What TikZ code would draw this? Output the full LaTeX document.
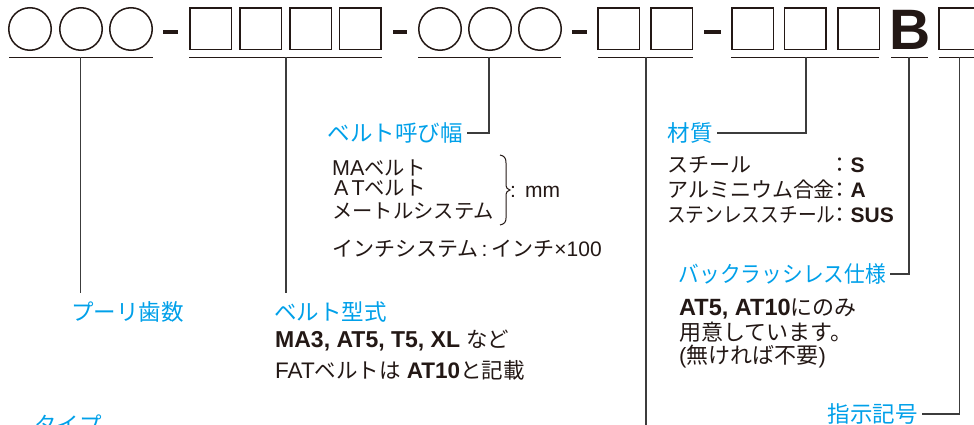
\documentclass[tikz,border=0pt]{standalone}
\usepackage{fontspec}
\setmainfont{Liberation Sans}
\newfontfamily\jpfont{Noto Sans CJK JP}
\newcommand{\jpn}[1]{{\jpfont #1}}
\definecolor{lblblue}{RGB}{0,160,233}
\definecolor{inkc}{RGB}{35,24,21}
\definecolor{wirec}{RGB}{60,60,60}
\tikzset{
  blbl/.style={text=lblblue, font=\jpfont\fontsize{22.5}{26}\selectfont, inner sep=0pt},
  tagr/.style={blbl, anchor=east, inner xsep=4pt, inner ysep=0pt},
  body/.style={text=inkc, font=\fontsize{21}{25}\selectfont, inner sep=0pt, anchor=base west, text height=15pt, text depth=3pt},
  bodys/.style={body, font=\fontsize{20.3}{22}\selectfont, text height=14pt, text depth=2pt},
  bodyb/.style={body, font=\fontsize{22}{25}\selectfont},
  slotc/.style={draw=inkc, line width=1.5pt, circle, minimum size=42.5pt, inner sep=0pt},
  slots/.style={draw=inkc, line width=1.5pt, rectangle, minimum size=41.5pt, inner sep=0pt},
  uline/.style={draw=inkc, line width=1.8pt},
  wire/.style={draw=wirec, line width=1.1pt},
  dashbar/.style={draw=inkc, line width=4.5pt},
}
\begin{document}
\begin{tikzpicture}[x=1pt,y=-1pt]
\useasboundingbox (0,0) rectangle (974,425);
\clip (0,0) rectangle (974,425);
% --- code slots
\node[slotc] (c1) at (30,29) {};
\node[slotc] (c2) at (81,29) {};
\node[slotc] (c3) at (131,29) {};
\draw[dashbar] (163,32) -- (178,32);
\node[slots] (s1) at (210.5,29) {};
\node[slots] (s2) at (260.5,29) {};
\node[slots] (s3) at (310.5,29) {};
\node[slots] (s4) at (360,29) {};
\draw[dashbar] (393,32) -- (407,32);
\node[slotc] (c4) at (440,29) {};
\node[slotc] (c5) at (490,29) {};
\node[slotc] (c6) at (540,29) {};
\draw[dashbar] (572,32) -- (587,32);
\node[slots] (s5) at (618.5,29) {};
\node[slots] (s6) at (671.5,29) {};
\draw[dashbar] (704,32) -- (721,32);
\node[slots] (s7) at (752.5,29) {};
\node[slots] (s8) at (805,29) {};
\node[slots] (s9) at (858.5,29) {};
\node[text=inkc, font=\bfseries\fontsize{57}{60}\selectfont, inner sep=0pt, anchor=base west] (bee) at (889,50) {B};
\node[slots] (s10) at (959.5,29) {};
% --- underlines
\draw[uline] (9,57.5) -- (153,57.5);
\draw[uline] (189,57.5) -- (382,57.5);
\draw[uline] (418,57.5) -- (561,57.5);
\draw[uline] (598,57.5) -- (693,57.5);
\draw[uline] (731,57.5) -- (879,57.5);
\draw[uline] (891,57.5) -- (928,57.5);
\draw[uline] (939,57.5) -- (980,57.5);
% --- connector ends
\coordinate (t1) at (80.5,57.5);  \coordinate (e1) at (80.5,293);
\coordinate (t2) at (286,57.5);   \coordinate (e2) at (286,293);
\coordinate (t3) at (489,57.5);
\coordinate (t4) at (646,57.5);   \coordinate (e4) at (646,426);
\coordinate (t5) at (806,57.5);
\coordinate (t6) at (909,57.5);
\coordinate (t7) at (959.5,57.5);
% --- labels
\node[blbl, anchor=base west] (lteeth) at (71,320) {プーリ歯数};
\node[blbl, anchor=base west] (lform) at (274,320) {ベルト型式};
\node[blbl, anchor=base west] (ltype) at (34,433) {タイプ};
\node[tagr] (lwidth) at (467,133) {ベルト呼び幅};
\node[tagr] (lmat) at (717,133) {材質};
\node[tagr] (lback) at (890,274) {\scalebox{0.92}[1]{バックラッシレス仕様}};
\node[tagr] (lmark) at (922,414) {指示記号};
% --- connectors
\draw[wire] (t1) -- (e1);
\draw[wire] (t2) -- (e2);
\draw[wire] (t3) |- (lwidth.east);
\draw[wire] (t4) -- (e4);
\draw[wire] (t5) |- (lmat.east);
\draw[wire] (t6) |- (lback.east);
\draw[wire] (t7) |- (lmark.east);
% --- belt form
\node[body, font=\fontsize{21.5}{25}\selectfont] (f1) at (275,347) {{\fontsize{23}{25}\selectfont\textbf{MA3, AT5, T5, XL}} \jpn{など}};
\node[body, font=\fontsize{21.5}{25}\selectfont] (f2) at (275,378) {{\fontsize{22.5}{25}\selectfont FAT}\jpn{ベルトは} {\fontsize{22.5}{25}\selectfont\textbf{AT10}}\jpn{と記載}};
% --- belt width
\node[bodys] (w1) at (332,175) {{\fontsize{21.5}{22}\selectfont MA}\jpn{ベルト}};
\node[bodys] (w2) at (332,195.5) {\hspace*{2pt}{\fontsize{21.5}{22}\selectfont A\hspace{3pt}T}\jpn{ベルト}};
\node[bodys] (w3) at (332,218) {\jpn{メートルシステム}};
\draw[draw=inkc, line width=1pt] (500,155) .. controls (504.5,156) and (506,158) .. (506,163) -- (506,184)
   .. controls (506,188) and (507.5,189.5) .. (510,190) .. controls (507.5,190.5) and (506,192) .. (506,196)
   -- (506,218) .. controls (506,222) and (504.5,224) .. (500,225);
\node[body] (wmm) at (510,197) {:\hspace{9pt}mm};
\node[body] (w4) at (332,256) {\jpn{インチシステム}\hspace{3pt}:\hspace{4pt}\jpn{インチ}×100};
% --- material
\node[body] (m1) at (667,172) {\jpn{スチール}};
\node[body] (m1v) at (829.5,172) {\jpn{：}\textbf{S}};
\node[body] (m2) at (667,197) {\jpn{アルミニウム合金}};
\node[body] (m2v) at (829.5,197) {\jpn{：}\textbf{A}};
\node[body] (m3) at (667,222) {\jpn{\scalebox{0.89}[1]{ステンレススチール}}};
\node[body] (m3v) at (829.5,222) {\jpn{：}\textbf{SUS}};
% --- backlash
\node[bodyb] (b1) at (679,315) {{\fontsize{23.5}{25}\selectfont\textbf{AT5, AT10}}\jpn{にのみ}};
\node[bodyb] (b2) at (679,340) {\jpn{用意しています。}};
\node[bodyb] (b3) at (679,363) {(\jpn{無ければ不要})};
\end{tikzpicture}
\end{document}
